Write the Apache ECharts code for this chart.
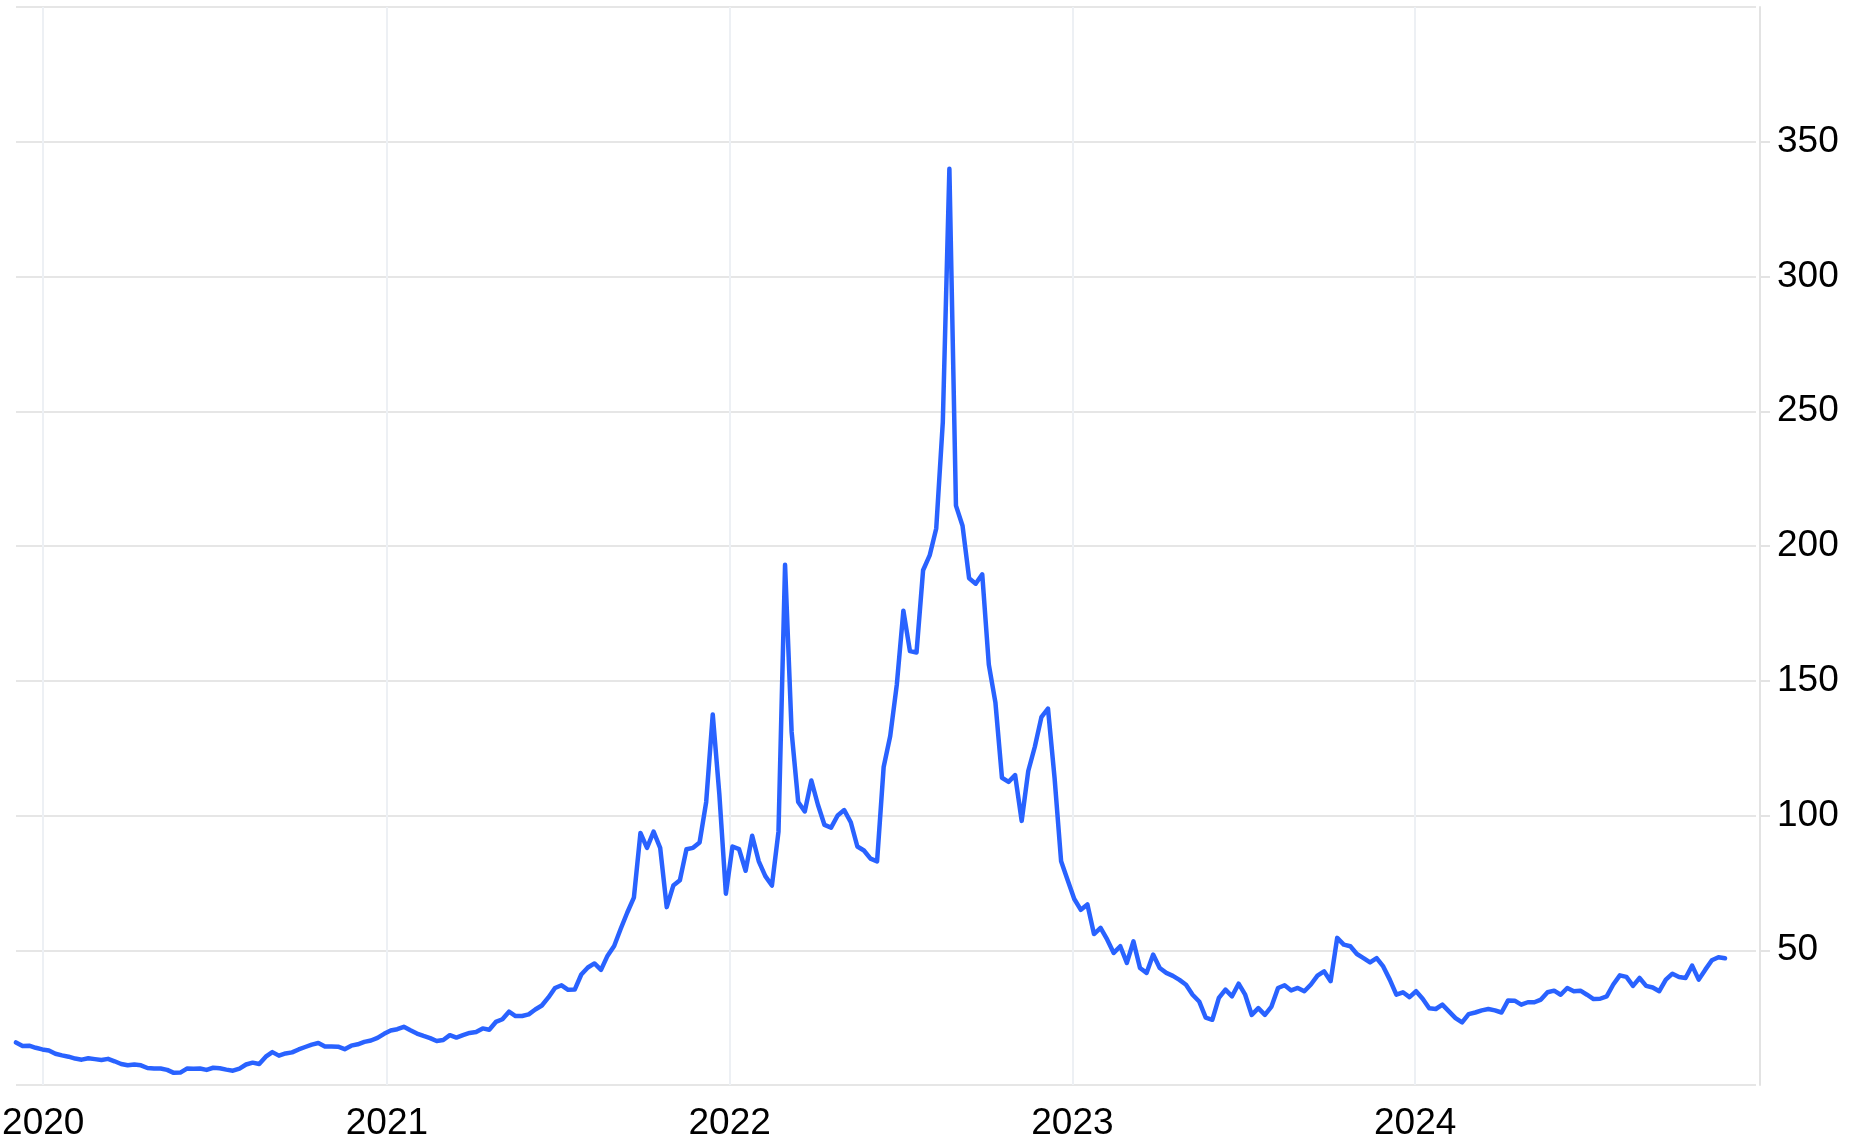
<!DOCTYPE html>
<html><head><meta charset="utf-8">
<script src="https://cdn.jsdelivr.net/npm/echarts@6/dist/echarts.min.js"></script>
<style>html,body{margin:0;padding:0;background:#fff}#c{width:1859px;height:1144px}</style>
</head><body><div id="c"></div>
<script>
// Weekly closing values, consecutive weeks starting 2019-12-03
const firstWeek = [2019, 11, 3];          // year, monthIndex, day
const axisEnd = '2024-12-29';
const yTicks = { min: 0, max: 400, step: 50 };

const vals_2020 = [15.8, 14.5, 14.6, 13.8, 13.2, 12.8, 11.6, 11.0, 10.5, 9.8,
  9.4, 9.9, 9.6, 9.3, 9.7, 8.8, 7.8, 7.3, 7.6, 7.3,
  6.3, 6.1, 6.1, 5.6, 4.5, 4.6, 6.1, 6.0, 6.1, 5.6,
  6.4, 6.2, 5.7, 5.3, 6.1, 7.6, 8.3, 7.8, 10.5, 12.2,
  10.9, 11.7, 12.1, 13.2, 14.1, 15.0, 15.6, 14.3, 14.3, 14.2,
  13.3, 14.6, 15.1];
const vals_2021 = [16.0, 16.5, 17.5, 19.0, 20.2, 20.7, 21.6,
  20.3, 19.1, 18.2, 17.4, 16.3, 16.7, 18.5, 17.6, 18.5, 19.3,
  19.7, 21.0, 20.5, 23.4, 24.4, 27.2, 25.6, 25.6, 26.2, 28.0,
  29.5, 32.5, 36.0, 37.0, 35.3, 35.4, 41.0, 43.6, 45.1, 42.7,
  48.0, 51.6, 58, 64, 69.5, 93.5, 88, 94, 88, 66,
  74, 76, 87.5, 88, 90];
const vals_2022 = [105, 137.5, 108, 71, 88.5,
  87.5, 79.5, 92.5, 83, 77.5, 74, 94, 193, 131, 105,
  101.5, 113, 104, 96.5, 95.5, 100, 102, 97.5, 88.5, 87,
  84, 83, 118, 129.5, 148.5, 176, 161, 160.5, 191, 196.5,
  206.5, 246, 340, 215, 207.5, 188, 186, 189.5, 156, 142,
  114, 112.5, 115, 98, 116.5, 125.5, 136.5];
const vals_2023 = [139.7, 114, 83,
  76, 69, 65, 67, 56, 58.3, 54, 49, 51.5, 45.3,
  53.3, 43.4, 41.6, 48.4, 43.4, 41.6, 40.5, 39, 37.2, 33.5,
  31, 25, 24.2, 32.3, 35.4, 32.9, 37.6, 33.5, 26, 28.5,
  26, 29.1, 36, 37, 35.1, 36, 34.8, 37.3, 40.6, 42.2,
  38.5, 54.6, 52.1, 51.5, 48.6, 47.1, 45.5, 47.1, 44, 39.1];
const vals_2024 = [33.5, 34.4, 32.6, 34.8, 32, 28.5, 28.2, 29.8, 27.3, 24.8,
  23.2, 26.3, 26.9, 27.7, 28.2, 27.7, 26.9, 31.4, 31.3, 29.8,
  30.7, 30.7, 31.7, 34.4, 35, 33.5, 36, 34.8, 35, 33.5,
  31.9, 32, 32.9, 37.3, 40.7, 40.1, 36.8, 39.7, 36.8, 36.2,
  34.8, 39.1, 41.3, 40.1, 39.7, 44.3, 39.1, 42.8, 46.3, 47.4, 47.0];

const values = [].concat(vals_2020, vals_2021, vals_2022, vals_2023, vals_2024);
const data = values.map((v, i) => [new Date(firstWeek[0], firstWeek[1], firstWeek[2] + 7 * i).getTime(), v]);

const FONT = '"Liberation Sans", Helvetica, Arial, sans-serif';
const chart = echarts.init(document.getElementById('c'), null, { renderer: 'canvas' });
chart.setOption({
  animation: false,
  backgroundColor: '#ffffff',
  grid: { left: 16, right: 103, top: 7, bottom: 59, containLabel: false, outerBoundsMode: 'none' },
  xAxis: {
    type: 'time',
    min: data[0][0],
    max: axisEnd,
    minInterval: 365 * 24 * 3600 * 1000,
    axisLine: { show: false },
    axisTick: { show: false },
    axisLabel: {
      fontSize: 37, color: '#000', fontFamily: FONT, margin: 20,
      showMinLabel: false, showMaxLabel: false,
      formatter: function (val) {
        const d = new Date(val);
        return (d.getMonth() === 0 && d.getDate() === 1) ? String(d.getFullYear()) : '';
      }
    },
    splitLine: { show: true, showMinLine: false, showMaxLine: false, lineStyle: { color: '#edf0f4', width: 2 } }
  },
  yAxis: {
    type: 'value',
    position: 'right',
    min: yTicks.min, max: yTicks.max, interval: yTicks.step,
    offset: 4,
    axisLine: { show: true, lineStyle: { color: '#e3e3e3', width: 2 } },
    axisTick: { show: true, length: 10, lineStyle: { color: '#e3e3e3', width: 2 } },
    axisLabel: { showMinLabel: false, showMaxLabel: false, fontSize: 37, color: '#000', fontFamily: FONT, margin: 17, padding: [4, 0, 0, 0] },
    splitLine: { show: true, lineStyle: { color: '#e6e6e6', width: 2 } }
  },
  series: [{
    type: 'line',
    data: data,
    showSymbol: false,
    symbol: 'none',
    smooth: false,
    lineStyle: { color: '#2962ff', width: 4.5, join: 'round', cap: 'round' }
  }]
});
</script></body></html>
